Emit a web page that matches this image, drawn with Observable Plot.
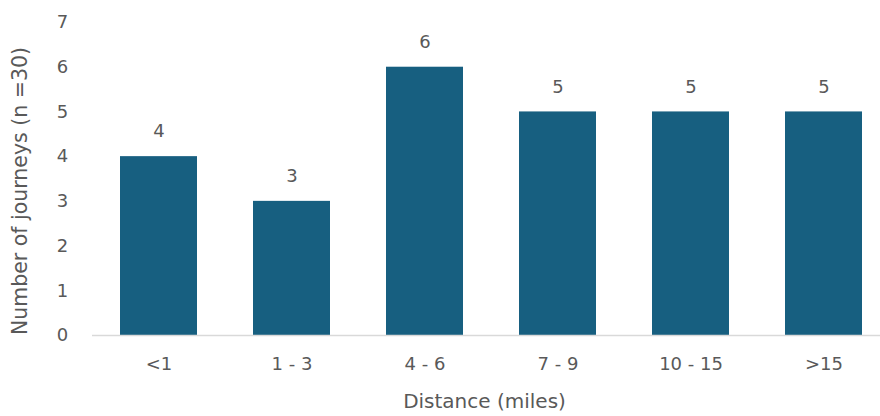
<!DOCTYPE html>
<html>
<head>
<meta charset="utf-8">
<script src="https://cdn.jsdelivr.net/npm/d3@7"></script>
<script src="https://cdn.jsdelivr.net/npm/@observablehq/plot@0.6"></script>
<style>
  html, body { margin: 0; padding: 0; background: #fff; }
  #chart svg { display: block; }
</style>
</head>
<body>
<div id="chart"></div>
<script>
const categories = ["<1", "1 - 3", "4 - 6", "7 - 9", "10 - 15", ">15"];
const journeys = [4, 3, 6, 5, 5, 5];
const yTicks = [0, 1, 2, 3, 4, 5, 6, 7];
const xTitle = "Distance (miles)";
const yTitle = "Number of journeys (n =30)";

const data = categories.map((c, i) => ({category: c, value: journeys[i]}));

const font = "'DejaVu Sans', sans-serif";
const textColor = "#595959";

const chart = Plot.plot({
  width: 880,
  height: 416,
  marginLeft: 92,
  marginRight: 0,
  marginTop: 22,
  marginBottom: 81,
  style: {fontFamily: font, fontSize: "18px", color: textColor, background: "#fff"},
  x: {domain: categories, range: [92, 891], paddingInner: 0.42, paddingOuter: 0.21, align: 0.5, label: null},
  y: {domain: [0, 7], label: null},
  marks: [
    Plot.barY(data, {x: "category", y: "value", fill: "#175f80"}),
    Plot.ruleY([0], {stroke: "#d9d9d9", strokeWidth: 1.5}),
    Plot.text(data, {x: "category", y: "value", text: d => String(d.value), dy: -25, fill: textColor, fontSize: 18}),
    Plot.axisX({tickSize: 0, tickPadding: 22, fontSize: 18, fill: textColor, label: null}),
    Plot.axisY({ticks: yTicks, tickFormat: "d", tickSize: 0, tickPadding: 22, fontSize: 18, fill: textColor, label: null, textAnchor: "middle", dx: -8}),
    Plot.text([xTitle], {frameAnchor: "bottom", textAnchor: "middle", dy: 72, dx: -2, fontSize: 20, fill: textColor}),
    Plot.text([yTitle], {frameAnchor: "left", textAnchor: "middle", rotate: -90, dx: -72, dy: 12, fontSize: 20.5, fill: textColor})
  ]
});
document.getElementById("chart").appendChild(chart);
</script>
</body>
</html>
